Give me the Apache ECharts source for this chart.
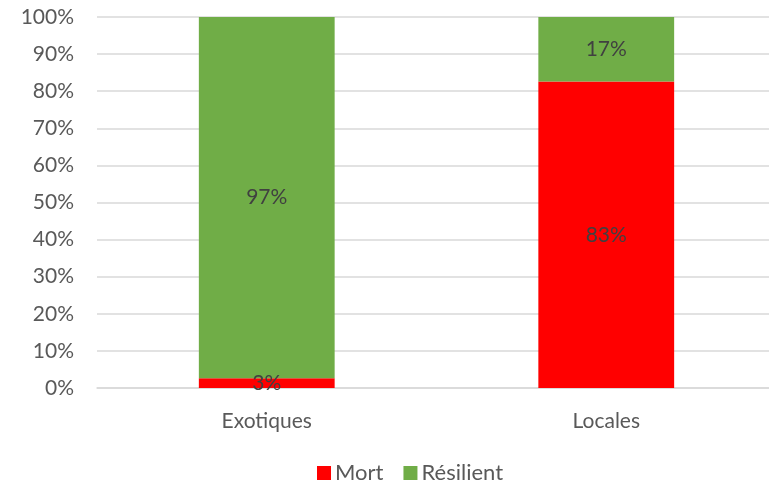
<!DOCTYPE html>
<html><head><meta charset="utf-8">
<script src="https://cdn.jsdelivr.net/npm/echarts@6/dist/echarts.min.js"></script>
<style>html,body{margin:0;padding:0;background:#fff;overflow:hidden}#c{width:776px;height:484px}</style>
</head><body><div id="c"></div>
<script>
const categories = ['Exotiques', 'Locales'];
const mort = [2.6, 82.6];
const resilient = [97.4, 17.4];
const yTicks = [0, 10, 20, 30, 40, 50, 60, 70, 80, 90, 100];

const font = 'Lato, "Open Sans", sans-serif';
const chart = echarts.init(document.getElementById('c'), null, {renderer: 'canvas'});
const lbl = {
  show: true, position: 'inside', color: '#404040', fontSize: 21, fontFamily: font,
  formatter: p => Math.round(p.value) + '%'
};
chart.setOption({
  animation: false,
  textStyle: {fontFamily: font},
  grid: {left: 97, right: 0, top: 17, bottom: 96, containLabel: false},
  legend: {
    top: 457, left: 312, itemWidth: 14, itemHeight: 14, itemGap: 20,
    icon: 'rect',
    textStyle: {color: '#595959', fontSize: 22, fontFamily: font, padding: [0, 0, 0, -1]},
    data: ['Mort', 'Résilient']
  },
  xAxis: {
    type: 'category', data: categories,
    axisLine: {show: true, lineStyle: {color: '#d9d9d9', width: 1.5}},
    axisTick: {show: false},
    axisLabel: {color: '#595959', fontSize: 21, fontFamily: font, margin: 23}
  },
  yAxis: {
    type: 'value', min: 0, max: 100, interval: 10,
    axisLine: {show: false}, axisTick: {show: false},
    splitLine: {lineStyle: {color: '#d9d9d9', width: 1.5}},
    axisLabel: {color: '#595959', fontSize: 21, fontFamily: font, margin: 23,
      formatter: v => yTicks.includes(v) ? v + '%' : ''}
  },
  series: [
    {name: 'Mort', type: 'bar', stack: 's', data: mort, barWidth: '40%',
      itemStyle: {color: '#ff0000'}, label: lbl},
    {name: 'Résilient', type: 'bar', stack: 's', data: resilient, barWidth: '40%',
      itemStyle: {color: '#70ad47'}, label: lbl}
  ]
});
</script></body></html>
